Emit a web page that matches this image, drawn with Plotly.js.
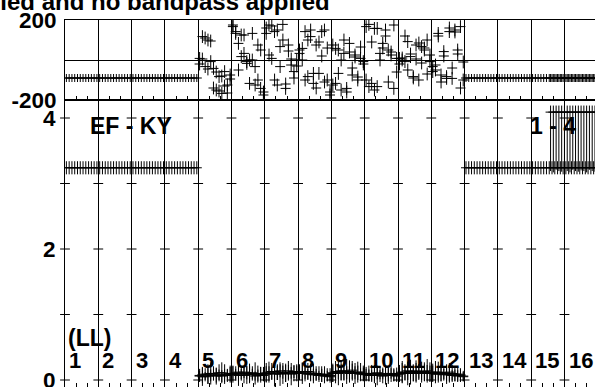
<!DOCTYPE html>
<html>
<head>
<meta charset="utf-8">
<script src="https://cdn.plot.ly/plotly-3.0.1.min.js"></script>
<style>html,body{margin:0;padding:0;background:#fff;}#chart{width:595px;height:387px;}</style>
</head>
<body>
<div id="chart"></div>
<script>
// ---------------- data ----------------
const ifLabels = ['1','2','3','4','5','6','7','8','9','10','11','12','13','14','15','16'];
const channelsPerIF = 12;
const polLabel = '(LL)';
const baselineA = 'EF - KY';
const baselineB = '1 - 4';
const titleText = 'Calibration applied and no bandpass applied';

// amplitude, baseline EF-KY, IF 1-4
const ampIF1to4 = [
 3.24,3.24,3.24,3.24,3.24,3.24,3.24,3.24,3.24,3.24,3.24,3.24,
 3.24,3.24,3.24,3.24,3.24,3.24,3.24,3.24,3.24,3.24,3.24,3.24,
 3.24,3.24,3.24,3.24,3.24,3.24,3.24,3.24,3.24,3.24,3.24,3.24,
 3.24,3.24,3.24,3.24,3.24,3.24,3.24,3.24,3.24,3.24,3.24,3.24];
// amplitude, IF 5-12 (noise), two samples per channel
const ampIF5to12 = [
 0.06,0.08,0.05,0.09,0.07,0.10,0.06,0.08,0.11,0.07,0.09,0.08,
 0.10,0.08,0.12,0.09,0.07,0.11,0.10,0.08,0.06,0.09,0.10,0.07,
 0.09,0.12,0.10,0.13,0.11,0.09,0.12,0.10,0.14,0.11,0.10,0.12,
 0.11,0.13,0.10,0.09,0.12,0.08,0.10,0.07,0.09,0.06,0.08,0.05,
 0.10,0.12,0.11,0.14,0.12,0.13,0.10,0.15,0.11,0.12,0.09,0.10,
 0.08,0.10,0.07,0.09,0.11,0.08,0.06,0.09,0.07,0.10,0.08,0.06,
 0.09,0.11,0.12,0.10,0.13,0.11,0.14,0.12,0.10,0.13,0.11,0.12,
 0.10,0.12,0.09,0.11,0.08,0.10,0.12,0.07,0.09,0.06,0.08,0.05];
const ampIF5to12b = [
 0.07,0.05,0.09,0.06,0.10,0.08,0.07,0.11,0.06,0.09,0.07,0.10,
 0.09,0.11,0.07,0.10,0.12,0.08,0.09,0.11,0.10,0.07,0.08,0.09,
 0.11,0.10,0.13,0.09,0.12,0.14,0.10,0.11,0.12,0.09,0.13,0.11,
 0.12,0.10,0.11,0.13,0.09,0.10,0.08,0.09,0.07,0.08,0.06,0.07,
 0.11,0.13,0.10,0.12,0.14,0.11,0.13,0.12,0.10,0.11,0.12,0.09,
 0.09,0.07,0.10,0.08,0.07,0.09,0.10,0.07,0.08,0.09,0.07,0.08,
 0.10,0.12,0.10,0.14,0.12,0.10,0.11,0.13,0.12,0.11,0.14,0.10,
 0.11,0.09,0.12,0.10,0.11,0.09,0.08,0.10,0.07,0.09,0.07,0.06];
// amplitude, IF 13-16
const ampIF13to16 = [
 3.24,3.24,3.24,3.24,3.24,3.24,3.24,3.24,3.24,3.24,3.24,3.24,
 3.24,3.24,3.24,3.24,3.24,3.24,3.24,3.24,3.24,3.24,3.24,3.24,
 3.24,3.24,3.24,3.24,3.24,3.24,3.24,3.24,3.24,3.24,3.24,3.24,
 3.24,3.24,3.24,3.24,3.24,3.24,3.24,3.24,3.24,3.24,3.24,3.24];
// amplitude errors
const ampErrIF1to4 = [
 0.10,0.10,0.10,0.10,0.10,0.10,0.10,0.10,0.10,0.10,0.10,0.10,
 0.10,0.10,0.10,0.10,0.10,0.10,0.10,0.10,0.10,0.10,0.10,0.10,
 0.10,0.10,0.10,0.10,0.10,0.10,0.10,0.10,0.10,0.10,0.10,0.10,
 0.10,0.10,0.10,0.10,0.10,0.10,0.10,0.10,0.10,0.10,0.10,0.10];
const ampErrIF5to12 = [
 0.08,0.12,0.07,0.15,0.09,0.11,0.13,0.08,0.16,0.10,0.07,0.12,
 0.11,0.09,0.14,0.08,0.12,0.10,0.15,0.09,0.07,0.13,0.10,0.08,
 0.12,0.16,0.09,0.14,0.11,0.18,0.10,0.13,0.15,0.09,0.12,0.10,
 0.10,0.14,0.12,0.08,0.13,0.09,0.11,0.07,0.12,0.08,0.10,0.06,
 0.13,0.17,0.10,0.15,0.12,0.19,0.11,0.14,0.10,0.16,0.09,0.12,
 0.09,0.12,0.08,0.14,0.10,0.07,0.11,0.09,0.13,0.08,0.10,0.07,
 0.10,0.15,0.12,0.18,0.11,0.13,0.16,0.12,0.10,0.14,0.12,0.15,
 0.12,0.17,0.10,0.13,0.09,0.12,0.14,0.08,0.11,0.09,0.10,0.07];
const ampErrIF5to12b = [
 0.10,0.14,0.09,0.12,0.17,0.08,0.11,0.13,0.09,0.15,0.10,0.12,
 0.13,0.10,0.16,0.11,0.09,0.14,0.12,0.10,0.17,0.09,0.12,0.11,
 0.15,0.11,0.13,0.19,0.12,0.10,0.16,0.14,0.11,0.17,0.10,0.13,
 0.12,0.16,0.10,0.13,0.11,0.15,0.09,0.12,0.10,0.13,0.08,0.11,
 0.14,0.11,0.18,0.12,0.15,0.10,0.17,0.13,0.16,0.11,0.14,0.10,
 0.11,0.09,0.13,0.10,0.15,0.12,0.09,0.14,0.10,0.12,0.09,0.11,
 0.13,0.17,0.11,0.14,0.19,0.12,0.15,0.11,0.16,0.13,0.18,0.12,
 0.14,0.11,0.16,0.12,0.10,0.15,0.12,0.13,0.09,0.11,0.10,0.08];
const ampErrIF13to16 = ampErrIF1to4;

// phase, baseline EF-KY
const phaseIF1to4 = [
 -90,-90,-90,-90,-90,-90,-90,-90,-90,-90,-90,-90,
 -90,-90,-90,-90,-90,-90,-90,-90,-90,-90,-90,-90,
 -90,-90,-90,-90,-90,-90,-90,-90,-90,-90,-90,-90,
 -90,-90,-90,-90,-90,-90,-90,-90,-90,-90,-90,-90];
const phaseIF5to12 = [
 -20,5,110,-45,95,-140,-60,-155,-80,-130,-165,-95,
 167,133,83,125,33,-8,-117,0,-33,75,-142,-175,
 133,175,8,142,-125,67,178,-142,75,-25,-58,0,
 50,0,142,-83,117,-117,75,-67,142,150,-100,-175,
 75,-117,50,-150,33,-142,83,-75,25,-100,8,-8,
 -100,178,-117,158,-133,33,83,150,50,25,-142,8,
 8,0,-8,92,17,-83,75,-100,67,50,100,-8,
 -33,-50,133,-75,42,-83,142,-92,150,50,167,-100];
const phaseIF5to12b = [
 8,117,-33,100,-8,-42,-150,-83,-167,-58,-125,-75,
 175,142,-50,17,125,-17,0,133,-125,-100,50,-160,
 160,25,170,-100,150,-33,100,-120,45,5,-90,-30,
 33,58,-100,100,150,-67,-140,90,20,-110,60,-160,
 -125,58,-67,0,100,-160,40,-40,15,-85,65,-20,
 167,-133,90,-150,158,0,60,120,-110,40,175,-60,
 -20,10,120,-50,30,-90,5,85,-15,60,-70,25,
 -58,-25,120,-110,20,-92,160,-40,140,30,-140,-10];
const phaseIF13to16 = phaseIF1to4;
const phaseErrFlat = 20;
const phaseErrNoisy = 32;

// baseline 1-4 (dense, IF 15-16)
const ampB = [4.09,4.09,4.09,4.09,4.09,4.09,4.09,4.09,4.09,4.09,4.09,4.09,4.09,4.09,4.09,4.09,4.09,4.09];
const ampBErrUp = [0.1,0.1,0.1,0.1,0.1,0.1,0.1,0.1,0.1,0.1,0.1,0.1,0.1,0.1,0.1,0.1,0.1,0.1];
const ampBErrDown = [0.9,0.92,0.88,0.9,0.91,0.89,0.9,0.92,0.88,0.9,0.91,0.89,0.9,0.92,0.88,0.9,0.91,0.89];
const phaseB = [-90,-90,-90,-90,-90,-90,-90,-90,-90,-90,-90,-90,-90,-90,-90,-90,-90,-90];
const bStartIF = 15;   // IF where baseline 1-4 starts
const bStartChan = 6;  // channel index within that IF

const ampTicks = [0,1,2,3,4];

// ---------------- build ----------------
const amplitude = ampIF1to4.concat(ampIF5to12, ampIF13to16);
const ampErr = ampErrIF1to4.concat(ampErrIF5to12, ampErrIF13to16);
const phase = phaseIF1to4.concat(phaseIF5to12, phaseIF13to16);
const phaseErr = phase.map((_, i) => (i >= 48 && i < 144) ? phaseErrNoisy : phaseErrFlat);
const chanX = amplitude.map((_, i) => Math.floor(i / channelsPerIF) + ((i % channelsPerIF) + 0.5) / channelsPerIF);
const chanXb = ampIF5to12b.map((_, i) => 4 + Math.floor(i / channelsPerIF) + ((i % channelsPerIF) + 1.0) / channelsPerIF - 0.04);
const bX = ampB.map((_, k) => (bStartIF - 1) + (bStartChan + k + 0.5) / channelsPerIF + 0.04);

const crossX = [], crossY = [];
for (let i = 0; i <= ifLabels.length; i++) for (const t of ampTicks) { crossX.push(i); crossY.push(t); }

const FONT = {family: 'Liberation Sans, Arial, sans-serif', size: 22, color: '#000', weight: 'bold'};
const TICKFONT = Object.assign({}, FONT, {size: 22.5});
const INK = '#000';

function errTrace(x, y, ey, xa, ya, arm) {
  return {
    type: 'scatter', mode: 'markers', x: x, y: y, xaxis: xa, yaxis: ya,
    marker: {size: 1, color: INK},
    error_x: {type: 'constant', value: arm, width: 0, thickness: 1, color: INK},
    error_y: Object.assign({type: 'data', width: 0, thickness: 1, color: INK}, ey),
    hoverinfo: 'skip', showlegend: false
  };
}

const traces = [
  {type: 'scatter', mode: 'markers', x: crossX, y: crossY, xaxis: 'x', yaxis: 'y',
   marker: {symbol: 'line-ew', size: 7, line: {width: 1, color: INK}},
   cliponaxis: false, hoverinfo: 'skip', showlegend: false},
  errTrace(chanX, amplitude, {array: ampErr}, 'x', 'y', 0.15),
  errTrace(chanXb, ampIF5to12b, {array: ampErrIF5to12b}, 'x', 'y', 0.15),
  errTrace(bX, ampB, {symmetric: false, array: ampBErrUp, arrayminus: ampBErrDown}, 'x', 'y', 0.15),
  errTrace(chanX, phase, {array: phaseErr}, 'x2', 'y2', 0.15),
  errTrace(chanXb, phaseIF5to12b, {type: 'constant', value: phaseErrNoisy}, 'x2', 'y2', 0.15),
  errTrace(bX, phaseB, {type: 'constant', value: phaseErrFlat}, 'x2', 'y2', 0.15)
];

const W = 595, H = 387, L = 65, T = 20, B = 0, R = 0;
const plotH = H - T - B;
const split = 100;               // pixel row between panels
const ampZeroPx = 380, ampPxPerUnit = 65.5;
const ifPx = 33.3;
const pyToAmp = p => (ampZeroPx - p) / ampPxPerUnit;
const pxToIF = p => (p - L) / ifPx;

const xCommon = {
  range: [0, (W - L - R) / ifPx], showgrid: true, gridcolor: INK, gridwidth: 1,
  dtick: 1, tick0: 0, ticks: '', showticklabels: false, zeroline: false,
  showline: true, linecolor: INK, linewidth: 1, mirror: true,
  minor: {dtick: 1/3, tick0: 0, ticks: 'inside', ticklen: 4, tickcolor: INK, tickwidth: 1, showgrid: false}
};

const annotations = ifLabels.map((t, i) => ({
  text: t, x: i + 0.06, y: pyToAmp(360), xref: 'x', yref: 'y',
  xanchor: 'left', yanchor: 'middle', showarrow: false, font: FONT
}));
annotations.push({text: polLabel, x: pxToIF(66), y: pyToAmp(338), xref: 'x', yref: 'y',
  xanchor: 'left', yanchor: 'middle', showarrow: false, font: Object.assign({}, FONT, {size: 23})});
annotations.push({text: baselineA, x: pxToIF(88), y: pyToAmp(126), xref: 'x', yref: 'y',
  xanchor: 'left', yanchor: 'middle', showarrow: false, font: Object.assign({}, FONT, {size: 23})});
annotations.push({text: baselineB, x: pxToIF(528), y: pyToAmp(126), xref: 'x', yref: 'y',
  xanchor: 'left', yanchor: 'middle', showarrow: false, font: Object.assign({}, FONT, {size: 23})});
annotations.push({text: titleText, x: (332 - L) / (W - L - R), y: (H - B - 1) / plotH,
  xref: 'paper', yref: 'paper', xanchor: 'right', yanchor: 'middle', showarrow: false,
  font: Object.assign({}, FONT, {size: 24})});

const layout = {
  width: W, height: H, margin: {l: L, r: R, t: T, b: B, pad: 0},
  paper_bgcolor: '#fff', plot_bgcolor: '#fff', showlegend: false,
  font: FONT,
  xaxis: Object.assign({anchor: 'y'}, xCommon),
  xaxis2: Object.assign({anchor: 'y2', matches: 'x'}, xCommon),
  yaxis: {domain: [0, (H - B - split) / plotH], range: [pyToAmp(H - B), pyToAmp(split)],
    tickmode: 'array', tickvals: [0, 2, 4], ticktext: ['0', '2', '4'], ticks: '',
    showgrid: false, zeroline: false, showline: true, linecolor: INK, linewidth: 1, mirror: false,
    ticklabelstandoff: 4, ticklabeloverflow: 'allow', tickfont: TICKFONT},
  yaxis2: {domain: [(H - B - split) / plotH, 1], range: [-200, 200],
    tickmode: 'array', tickvals: [-200, 0, 200], ticktext: ['-200', '', '200'], ticks: '',
    showgrid: true, gridcolor: INK, gridwidth: 1, zeroline: false,
    showline: true, linecolor: INK, linewidth: 1, mirror: false,
    ticklabelstandoff: 3, ticklabeloverflow: 'allow', tickfont: TICKFONT},
  annotations: annotations
};

Plotly.newPlot('chart', traces, layout, {staticPlot: true, displayModeBar: false});
</script>
</body>
</html>
